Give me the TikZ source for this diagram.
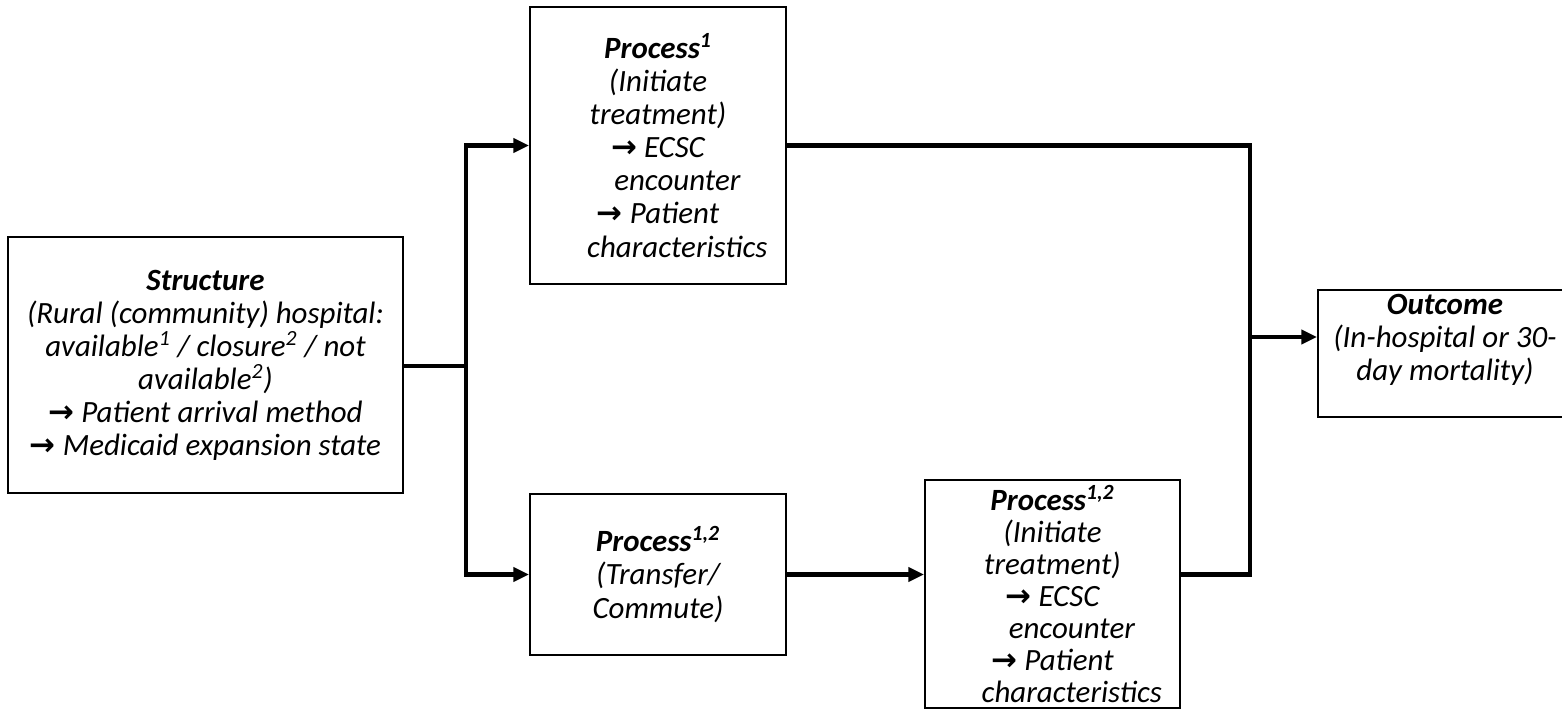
\documentclass[tikz,border=0pt]{standalone}
\usepackage{fontspec}
\setmainfont{Carlito}
\newfontfamily\arrowfont{DejaVu Sans}
\usetikzlibrary{arrows.meta,positioning}
\newcommand{\goesto}{{\arrowfont\upshape\bfseries →}}
\newcommand{\hang}{\hspace*{22pt}}

\begin{document}
\begin{tikzpicture}[x=0.02cm, y=0.02cm,
	box/.style={draw, line width=1pt, align=center, inner sep=2pt,
		font=\fontsize{17.6}{18.8}\selectfont\itshape},
	tight/.style={inner sep=1pt, font=\fontsize{17.6}{18.3}\selectfont\itshape},
	link/.style={line width=2.3pt},
	arr/.style={link, -{Triangle[length=9pt,width=8pt]}}]
\useasboundingbox (0,0) rectangle (1562,710);

% boxes
\node[box, minimum width=7.9cm, minimum height=5.12cm] (struct) at (205.5,345) {%
	\textbf{Structure}\\
	(Rural (community) hospital:\\
	available\textsuperscript{1} / closure\textsuperscript{2} / not\\
	available\textsuperscript{2})\\
	\goesto{} Patient arrival method\\
	\goesto{} Medicaid expansion state};
\node[box, minimum width=5.12cm, minimum height=5.54cm] (proc1) at (658,564.5) {%
	\textbf{Process\textsuperscript{1}}\\
	(Initiate\\
	treatment)\\
	\goesto{} ECSC\\
	\hang encounter\\
	\goesto{} Patient\\
	\hang characteristics};
\node[box, minimum width=5.12cm, minimum height=3.22cm] (proc2) at (658,135.5) {%
	\textbf{Process\textsuperscript{1,2}}\\
	(Transfer/\\
	Commute)};
\node[box, tight, minimum width=5.1cm, minimum height=4.56cm] (proc3) at (1052.5,116) {%
	\textbf{Process\textsuperscript{1,2}}\\
	(Initiate\\
	treatment)\\
	\goesto{} ECSC\\
	\hang encounter\\
	\goesto{} Patient\\
	\hang characteristics};
\node[box, minimum width=5.08cm, minimum height=2.54cm] (outcome) at (1445,356.5) {%
	\textbf{Outcome}\\
	(In-hospital or 30-\\
	day mortality)\\
	\mbox{}};

% junctions
\coordinate (split) at (466,344);
\coordinate (join) at (1250,373);

% connectors
\draw[link] (struct.east |- split) -- (split);
\draw[arr] (split) |- (proc1.west);
\draw[arr] (split) |- (proc2.west);
\draw[arr] (proc2.east) -- (proc2.east -| proc3.west);
\draw[link] (proc1.east) -| (join |- proc2.east) -- (proc2.east -| proc3.east);
\draw[arr] (join) -- (join -| outcome.west);
\end{tikzpicture}
\end{document}
